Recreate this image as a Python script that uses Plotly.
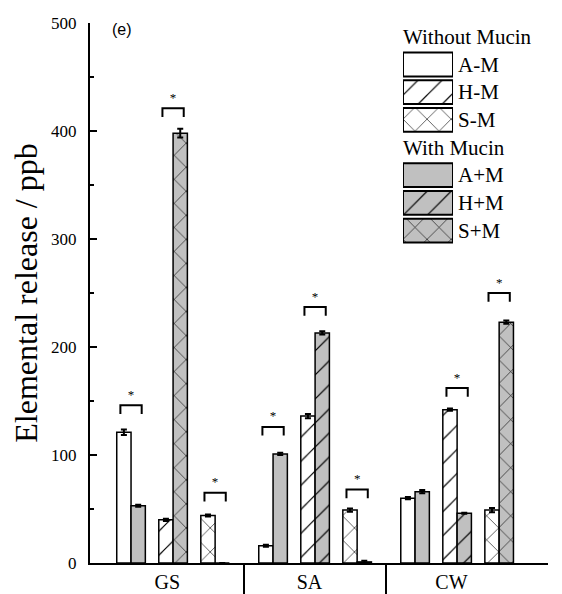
import plotly.graph_objects as go

# ---------------- data ----------------
categories = ["GS", "SA", "CW"]
series = ["A-M", "A+M", "H-M", "H+M", "S-M", "S+M"]
val_AmM = [121, 16, 60]
val_ApM = [53, 101, 66]
val_HmM = [40, 136, 142]
val_HpM = [398, 213, 46]
val_SmM = [44, 49, 49]
val_SpM = [0, 1, 223]
err_AmM = [2.5, 1, 1]
err_ApM = [1, 1, 1.5]
err_HmM = [1, 2, 1]
err_HpM = [4, 1.5, 0.5]
err_SmM = [1, 1.5, 2]
err_SpM = [0, 1, 1.5]
values = [val_AmM, val_ApM, val_HmM, val_HpM, val_SmM, val_SpM]
errors = [err_AmM, err_ApM, err_HmM, err_HpM, err_SmM, err_SpM]
# hatch as drawn in the original (GS H+M is drawn cross-hatched)
hatch = ["", "", "/", ["x", "/", "/"], "x", "x"]
with_mucin = [False, True, False, True, False, True]

# significance brackets: category, pair, bracket level (ppb)
sig_category = ["GS", "GS", "GS", "SA", "SA", "SA", "CW", "CW"]
sig_pair = [0, 1, 2, 0, 1, 2, 1, 2]
sig_level = [146, 421, 65, 126, 237, 68, 162, 250]

yticks = [0, 100, 200, 300, 400, 500]
legend_rows = ["Without Mucin", "A-M", "H-M", "S-M", "With Mucin", "A+M", "H+M", "S+M"]

# ---------------- style ----------------
FONT = "Liberation Serif"
GRAY = "#c0c0c0"
W = 0.1007
PAIR = 0.296
PSIZE = 17
SOL = 0.07

fig = go.Figure()

def offset(k):
    return (k // 2 - 1) * PAIR - W + (k % 2) * W

for k, name in enumerate(series):
    bg = GRAY if with_mucin[k] else "white"
    fig.add_trace(go.Bar(
        x=list(range(len(categories))), y=values[k], name=name,
        width=W, offset=offset(k),
        marker=dict(color=bg, line=dict(color="black", width=1.5),
                    pattern=dict(shape=hatch[k], fgcolor="black", bgcolor=bg,
                                 size=PSIZE, solidity=SOL, fillmode="replace")),
        error_y=dict(type="data", array=errors[k], color="black", thickness=2, width=3),
        showlegend=False, xaxis="x", yaxis="y",
    ))

# significance brackets
leg = 8
for c, p, lvl in zip(sig_category, sig_pair, sig_level):
    i = categories.index(c)
    center = i + (p - 1) * PAIR
    half = 0.075
    fig.add_trace(go.Scatter(
        x=[center - half, center - half, center + half, center + half],
        y=[lvl - leg, lvl, lvl, lvl - leg], mode="lines",
        line=dict(color="black", width=2), showlegend=False, hoverinfo="skip",
        xaxis="x", yaxis="y"))
    fig.add_trace(go.Scatter(
        x=[center], y=[lvl + 9], mode="text", text=["*"],
        textfont=dict(family=FONT, size=13, color="black"),
        showlegend=False, hoverinfo="skip", xaxis="x", yaxis="y"))

# inset legend built as an auxiliary bar subplot
annotations = []
for r, lab in enumerate(legend_rows):
    if lab in series:
        k = series.index(lab)
        bg = GRAY if with_mucin[k] else "white"
        shp = hatch[k] if isinstance(hatch[k], str) else hatch[k][-1]
        fig.add_trace(go.Bar(
            x=[1], y=[r], orientation="h", width=0.86, base=0,
            marker=dict(color=bg, line=dict(color="black", width=2),
                        pattern=dict(shape=shp, fgcolor="black", bgcolor=bg,
                                     size=PSIZE, solidity=SOL, fillmode="replace")),
            showlegend=False, hoverinfo="skip", xaxis="x3", yaxis="y3"))
        annotations.append(dict(x=1, y=r, xref="x3", yref="y3", text=lab,
                                xanchor="left", yanchor="middle", xshift=3,
                                showarrow=False, font=dict(family=FONT, size=21, color="black")))
    else:
        annotations.append(dict(x=0, y=r, xref="x3", yref="y3", text=lab,
                                xanchor="left", yanchor="middle", xshift=-2,
                                showarrow=False, font=dict(family=FONT, size=21, color="black")))

annotations.append(dict(x=-0.36, y=494, xref="x", yref="y", text="(e)", showarrow=False,
                        xanchor="center", yanchor="middle",
                        font=dict(family="Liberation Sans", size=16, color="black")))

# the page body adds an 8px margin, so the figure is sized/margined to compensate
fig.update_layout(
    width=554, height=586,
    margin=dict(l=82, r=14, t=15, b=31),
    paper_bgcolor="white", plot_bgcolor="white",
    barmode="overlay",
    font=dict(family=FONT, color="black"),
    annotations=annotations,
    xaxis=dict(
        range=[-0.585, 2.64], showgrid=False, zeroline=False, automargin=False,
        showline=True, linecolor="black", linewidth=1.5,
        tickmode="array", tickvals=[-0.04, 0.96, 1.96], ticktext=categories,
        ticks="", tickfont=dict(family=FONT, size=20, color="black"),
        minor=dict(tickmode="array", tickvals=[0.5, 1.5], ticks="outside",
                   ticklen=32, tickwidth=1.5, tickcolor="black", showgrid=False),
    ),
    yaxis=dict(
        range=[0, 500], showgrid=False, zeroline=False, automargin=False,
        showline=True, linecolor="black", linewidth=2,
        tickmode="array", tickvals=yticks,
        ticks="inside", ticklen=7, tickwidth=1.5, tickcolor="black",
        minor=dict(dtick=50, ticks="inside", ticklen=4, tickwidth=1.5, tickcolor="black"),
        tickfont=dict(family=FONT, size=17, color="black"), ticklabelstandoff=8,
        title=dict(text="Elemental release / ppb", font=dict(family=FONT, size=32, color="black"),
                   standoff=10),
    ),
    xaxis3=dict(domain=[0.6834, 0.7926], range=[0, 1], visible=False, anchor="y3"),
    yaxis3=dict(domain=[0.590, 1.0], range=[7.5, -0.5], visible=False, anchor="x3"),
)

fig.write_html("out.html")
